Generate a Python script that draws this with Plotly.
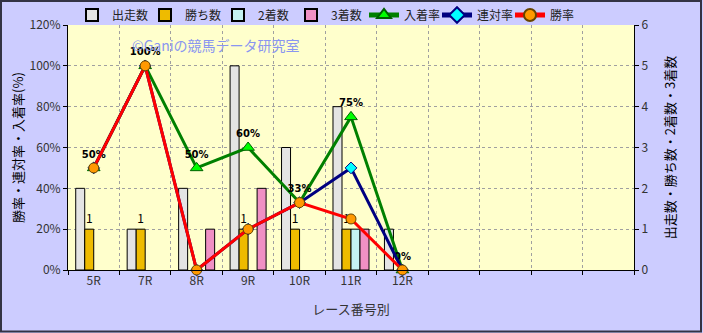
import plotly.graph_objects as go

races = ["5R", "7R", "8R", "9R", "10R", "11R", "12R"]
runs = [2, 1, 2, 5, 3, 4, 1]
wins = [1, 1, 0, 1, 1, 1, 0]
seconds = [0, 0, 0, 0, 0, 1, 0]
thirds = [0, 0, 1, 2, 0, 1, 0]
place_rate = [50, 100, 50, 60, 33, 75, 0]
rentai_rate = [50, 100, 0, 20, 33, 50, 0]
win_rate = [50, 100, 0, 20, 33, 25, 0]
n_slots = 11

FONT = "Noto Sans CJK JP"
xpos = list(range(len(races)))

fig = go.Figure()

bar_specs = [
    ("出走数", runs, "#E4E4E4"),
    ("勝ち数", wins, "#EEBB00"),
    ("2着数", seconds, "#C4F2F2"),
    ("3着数", thirds, "#F090C4"),
]
for name, vals, col in bar_specs:
    kw = {}
    if name == "勝ち数":
        kw = dict(text=[str(v) if v > 0 else "" for v in vals], textposition="outside",
                  textfont=dict(size=12, color="#000000", family=FONT), cliponaxis=False)
    fig.add_trace(go.Bar(x=xpos, y=[v if v > 0 else None for v in vals], name=name, yaxis="y",
                         marker=dict(color=col, line=dict(color="#000000", width=1)), **kw))

fig.add_trace(go.Scatter(x=xpos, y=place_rate, name="入着率", yaxis="y2", mode="lines+markers+text",
                         line=dict(color="#008000", width=3),
                         marker=dict(symbol="triangle-up", size=11, color="#00FF00",
                                     line=dict(color="#006000", width=1)),
                         text=[f"{v}%" for v in place_rate], textposition="top center",
                         textfont=dict(size=10, color="#000000", family="DejaVu Sans", weight="bold"),
                         cliponaxis=False))
fig.add_trace(go.Scatter(x=xpos, y=rentai_rate, name="連対率", yaxis="y2", mode="lines+markers",
                         line=dict(color="#000080", width=3),
                         marker=dict(symbol="diamond", size=9, color="#00FFFF",
                                     line=dict(color="#000080", width=1)), cliponaxis=False))
fig.add_trace(go.Scatter(x=xpos, y=win_rate, name="勝率", yaxis="y2", mode="lines+markers",
                         line=dict(color="#FF0000", width=3),
                         marker=dict(symbol="circle", size=10, color="#FF9900",
                                     line=dict(color="#664400", width=1)), cliponaxis=False))

W, H = 703, 333
L, R, T, B = 68, 69, 25, 63
pw, ph = W - L - R, H - T - B

fig.update_layout(
    width=W, height=H,
    margin=dict(l=L, r=R, t=T, b=B, pad=0, autoexpand=False),
    paper_bgcolor="#CCCCFF", plot_bgcolor="#FFFFCC",
    font=dict(family=FONT, size=12, color="#333333"),
    barmode="group", bargap=0.3, bargroupgap=0,
    showlegend=True,
    legend=dict(orientation="h", x=(72 - L) / pw, xanchor="left", y=1 + 10 / ph, yanchor="middle",
                bgcolor="rgba(0,0,0,0)", font=dict(size=12, family=FONT, color="#222222"),
                itemsizing="constant", entrywidth=28, traceorder="normal", tracegroupgap=0),
    xaxis=dict(range=[-0.5, n_slots - 0.5], tickmode="array", tickvals=xpos, ticktext=races,
               showgrid=False, showline=True, linecolor="#000000", linewidth=1,
               ticks="", tickfont=dict(size=12, color="#333333"),
               minor=dict(tickmode="linear", tick0=0.5, dtick=1, showgrid=True,
                          gridcolor="#A0A0A0", griddash="dot", gridwidth=1,
                          ticks="outside", ticklen=4, tickcolor="#000000"),
               title=dict(text="レース番号別", font=dict(size=13, color="#333333"), standoff=17),
               zeroline=False),
    yaxis=dict(range=[0, 6], dtick=1, side="right", showgrid=True, gridcolor="#A0A0A0",
               griddash="dot", showline=True, linecolor="#000000", linewidth=1,
               ticks="outside", ticklen=4, tickcolor="#000000", zeroline=False,
               tickfont=dict(size=12, color="#333333"),
               title=dict(text="出走数・勝ち数・2着数・3着数", font=dict(size=13, color="#000000"),
                          standoff=18)),
    yaxis2=dict(range=[0, 120], dtick=20, ticksuffix="%", side="left", overlaying="y",
                showgrid=False, showline=True, linecolor="#000000", linewidth=1,
                ticks="outside", ticklen=4, tickcolor="#000000", zeroline=False,
                tickfont=dict(size=12, color="#333333"),
                title=dict(text="勝率・連対率・入着率(%)", font=dict(size=13, color="#000000"),
                           standoff=3)),
    annotations=[dict(text="©Ganiの競馬データ研究室", xref="paper", yref="paper",
                      x=(130 - L) / pw, y=1 - (45 - T) / ph, xanchor="left", yanchor="middle",
                      showarrow=False, font=dict(size=14, color="#8A96F0", family=FONT))],
    shapes=[dict(type="rect", xref="paper", yref="paper",
                 x0=-(L - 1) / pw, x1=1 + (R - 2) / pw, y0=-(B - 1.5) / ph, y1=1 + (T - 1) / ph,
                 line=dict(color="#333344", width=2), layer="above")],
)

fig.write_html("out.html")
